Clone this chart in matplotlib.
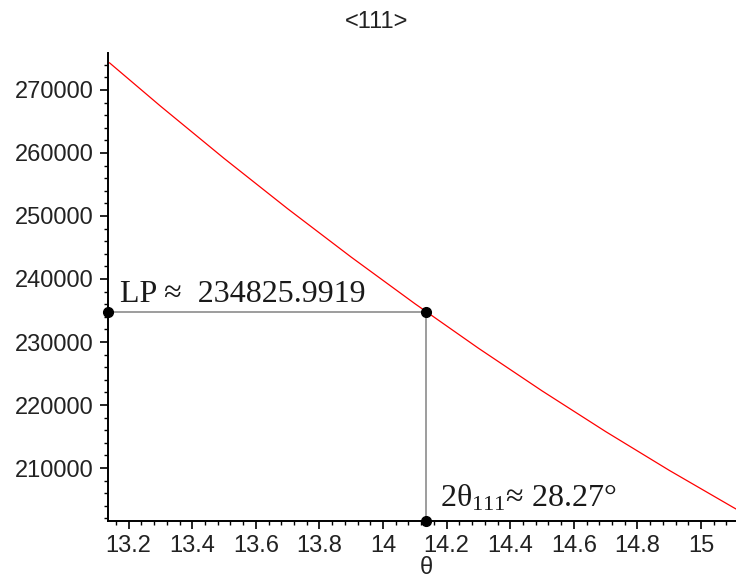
import matplotlib
matplotlib.use("Agg")
import matplotlib.pyplot as plt
from matplotlib.ticker import MultipleLocator, FuncFormatter

# values (theta in degrees, LP factor)
theta = [13.14, 13.3, 13.5, 13.7, 13.9, 14.1, 14.3, 14.5, 14.7, 14.9, 15.1, 15.12]
lp = [274300, 267441, 259143, 251151, 243468, 236086, 229013, 222246,
      215785, 209631, 203783, 203214]

THETA_111 = 14.135
LP_111 = 234825.9919
(XMIN, XMAX) = (13.135, 15.11)
(YMIN, YMAX) = (201590, 275870)

plt.rcParams['font.family'] = ['Liberation Sans', 'DejaVu Sans']
plt.rcParams['mathtext.fontset'] = 'custom'
plt.rcParams['mathtext.rm'] = 'Liberation Serif'
plt.rcParams['mathtext.it'] = 'Liberation Serif'
SERIF = ['Liberation Serif', 'DejaVu Serif']

fig = plt.figure(figsize=(7.36, 5.80), dpi=100)
ax = fig.add_axes([108/736, 59/580, 628/736, 468/580])

ax.plot(theta, lp, color='#ff0000', lw=0.9, zorder=3)
ax.plot([XMIN, THETA_111], [LP_111, LP_111], color='#8c8c8c', lw=1.2, zorder=2)
ax.plot([THETA_111, THETA_111], [YMIN, LP_111], color='#8c8c8c', lw=1.2, zorder=2)
ax.plot([XMIN, THETA_111, THETA_111], [LP_111, LP_111, YMIN], 'o',
        color='black', ms=7, zorder=5, clip_on=False)

ax.text(13.172, LP_111 + 1600, 'LP ≈  234825.9919', family=SERIF,
        fontsize=23, color='#1a1a1a', va='baseline', ha='left')
ax.text(14.18, YMIN + 2250, r'2θ$_{\mathrm{111}}$≈ 28.27°', family=SERIF,
        fontsize=23, color='#1a1a1a', va='baseline', ha='left')

ax.set_xlim(XMIN, XMAX)
ax.set_ylim(YMIN, YMAX)
for s in ('top', 'right'):
    ax.spines[s].set_visible(False)
for s in ('left', 'bottom'):
    ax.spines[s].set_linewidth(1.4)

ax.xaxis.set_major_locator(MultipleLocator(0.2))
ax.xaxis.set_minor_locator(MultipleLocator(0.04))
ax.yaxis.set_major_locator(MultipleLocator(10000))
ax.yaxis.set_minor_locator(MultipleLocator(2000))
ax.xaxis.set_major_formatter(FuncFormatter(lambda v, p: f'{v:.1f}'.rstrip('0').rstrip('.')))
ax.yaxis.set_major_formatter(FuncFormatter(lambda v, p: f'{int(round(v))}'))
ax.tick_params(axis='both', which='major', length=6, width=1.2, labelsize=17,
               pad=4, direction='out', colors='black', labelcolor='#222222')
ax.tick_params(axis='both', which='minor', length=3, width=1.0, direction='out')

fig.text(377/736, 1 - 22/580, '<111>', fontsize=17, ha='center', va='center',
         color='#222222')
fig.text(426/736, 1 - 568/580, 'θ', fontsize=17, ha='center', va='center',
         color='#222222')

fig.savefig('out.png', dpi=100, facecolor='white')
plt.close('all')
